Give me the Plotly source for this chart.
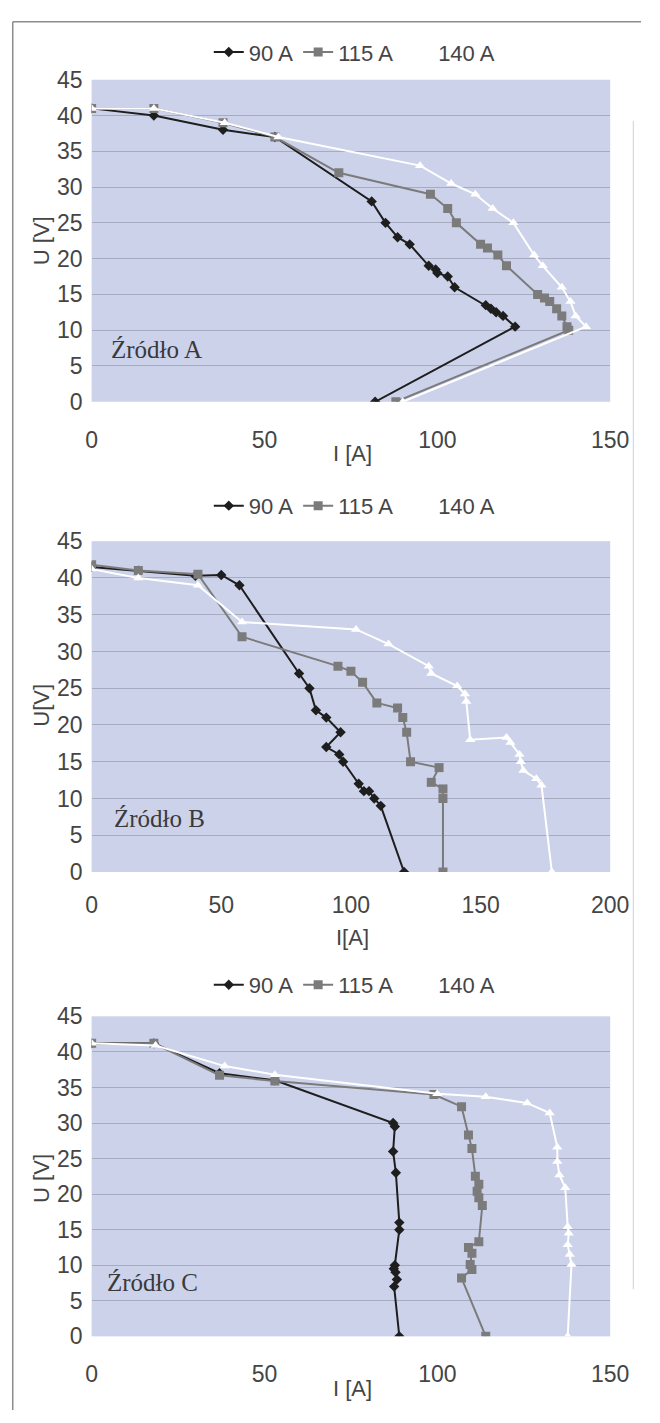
import plotly.graph_objects as go

# ---------------- data ----------------
series_names = ["90 A", "115 A", "140 A"]
panel_labels = ["Źródło A", "Źródło B", "Źródło C"]
x_titles = ["I [A]", "I[A]", "I [A]"]
y_titles = ["U [V]", "U[V]", "U [V]"]
x_ranges = [150, 200, 150]
x_ticks_A = [0, 50, 100, 150]
x_ticks_B = [0, 50, 100, 150, 200]
y_ticks = [0, 5, 10, 15, 20, 25, 30, 35, 40, 45]

# Panel A
I_A_90 = [0, 18, 38, 53, 81, 85, 88.5, 92, 97.5, 99.5, 100, 103, 105, 114, 115.5, 117, 119, 122.5, 82]
U_A_90 = [41, 40, 38, 37, 28, 25, 23, 22, 19, 18.5, 18, 17.5, 16, 13.5, 13, 12.5, 12, 10.5, 0]
I_A_115 = [0, 18, 38, 53, 71.5, 98, 103, 105.5, 112.5, 114.5, 117.5, 120, 129, 131, 132.5, 134.5, 136, 137.5, 138, 88]
U_A_115 = [41, 41, 39, 37, 32, 29, 27, 25, 22, 21.5, 20.5, 19, 15, 14.5, 14, 13, 12, 10.5, 10, 0]
I_A_140 = [0, 18, 38.5, 54, 95, 104, 111, 116, 122, 128, 130.5, 136, 138.5, 140, 143, 90]
U_A_140 = [41, 41, 39, 37, 33, 30.5, 29, 27, 25, 20.5, 19, 16, 14, 12, 10.5, 0]

# Panel B
I_B_90 = [0, 18, 40, 50, 57, 80, 84, 86.5, 90.5, 96, 90.5, 95.5, 97, 103, 105, 107, 109, 111.5, 120.5]
U_B_90 = [41.5, 41, 40.3, 40.4, 39, 27, 25, 22, 21, 19, 17, 16, 15, 12, 11, 11, 10, 9, 0]
I_B_115 = [0, 18, 41, 58, 95, 100, 104.5, 110, 118, 120, 121.5, 123, 134, 131, 135.5, 135.5, 135.5]
U_B_115 = [41.8, 41, 40.5, 32, 28, 27.3, 25.8, 23, 22.3, 21, 19, 15, 14.2, 12.2, 11.3, 10, 0]
I_B_140 = [0, 18, 41, 58, 102, 114.5, 130, 131, 141, 144, 144.5, 146, 160, 161.5, 165, 165.5, 166.5, 171.5, 173.5, 177.5]
U_B_140 = [41.2, 40, 39, 34, 33, 31, 28, 27, 25.3, 24.2, 23.2, 18, 18.3, 17.6, 16, 15, 13.8, 12.7, 11.8, 0]

# Panel C
I_C_90 = [0, 18, 37, 53, 87.2, 87.7, 87.2, 88, 89, 89, 87.7, 87.4, 87.9, 88.3, 87.5, 89]
U_C_90 = [41.2, 41.2, 37, 36, 30, 29.5, 26, 23, 16, 15, 10, 9.5, 9, 8, 7, 0]
I_C_115 = [0, 18, 37, 53, 99, 107, 109, 110, 111, 112, 111.5, 112, 113, 112, 109, 110, 109.5, 110, 107, 114]
U_C_115 = [41.2, 41.2, 36.7, 35.9, 34, 32.3, 28.3, 26.4, 22.5, 21.4, 20.4, 19.5, 18.4, 13.3, 12.5, 11.7, 10.1, 9.4, 8.2, 0]
I_C_140 = [0, 18.5, 38.5, 53, 100, 114, 126, 132.5, 134.7, 134.7, 135.3, 137, 137.7, 138, 137.7, 138.3, 138.8, 137.7]
U_C_140 = [41.2, 40.9, 38, 36.8, 34.1, 33.7, 32.8, 31.4, 26.6, 24.6, 22.7, 20.9, 15.4, 14.5, 12.9, 11.5, 10.1, 0]

panels = [
    [(I_A_90, U_A_90), (I_A_115, U_A_115), (I_A_140, U_A_140)],
    [(I_B_90, U_B_90), (I_B_115, U_B_115), (I_B_140, U_B_140)],
    [(I_C_90, U_C_90), (I_C_115, U_C_115), (I_C_140, U_C_140)],
]

# ---------------- styling ----------------
W, H = 660, 1423
def fx(px):
    return px / W
def fy(py):
    return 1 - py / H

NARROW = "Liberation Sans Narrow, Arial Narrow, Liberation Sans, Arial"
SERIF = "Liberation Serif, Times New Roman, serif"
TXT = "#454545"
PLOT_BG = "#CDD2EB"
GRID = "#A7ABC0"

line_colors = ["#1e1e1e", "#7b7b7b", "#ffffff"]
symbols = ["diamond", "square", "triangle-up"]
msizes = [8, 9, 9]

# pixel geometry of the three plot areas: (top, bottom)
plot_px = [(68, 396), (538, 875), (1022, 1348)]
left_px, right_px = 89, 628
legend_y = [40, 502, 990]
xtitle_y = [449, 942, 1401]
ytitle_y = [232, 705, 1187]
label_pos = [(107, 343), (110, 820), (103, 1293)]
xstand = [22, 17, 22]

fig = go.Figure()
legend_keys = ["legend", "legend2", "legend3"]

for p, pdata in enumerate(panels):
    ax = "" if p == 0 else str(p + 1)
    for s, (xs, ys) in enumerate(pdata):
        fig.add_trace(go.Scatter(
            x=xs, y=ys, name=series_names[s], mode="lines+markers",
            xaxis="x" + ax, yaxis="y" + ax,
            line=dict(color=line_colors[s], width=2),
            marker=dict(symbol=symbols[s], size=msizes[s], color=line_colors[s]),
            legend=legend_keys[p], showlegend=True,
        ))

layout = dict(
    width=W, height=H,
    margin=dict(l=0, r=0, t=0, b=0),
    paper_bgcolor="white", plot_bgcolor=PLOT_BG,
    font=dict(family=NARROW, size=22, color=TXT),
    annotations=[], shapes=[],
)

for p in range(3):
    ax = "" if p == 0 else str(p + 1)
    top, bot = plot_px[p]
    layout["xaxis" + ax] = dict(
        domain=[fx(left_px), fx(right_px)], anchor="y" + ax,
        range=[0, x_ranges[p]],
        tickvals=x_ticks_B if p == 1 else x_ticks_A,
        showgrid=False, zeroline=False, showline=False, ticks="",
        tickfont=dict(family=NARROW, size=23, color=TXT),
        ticklabelstandoff=xstand[p], fixedrange=True,
    )
    layout["yaxis" + ax] = dict(
        domain=[fy(bot), fy(top)], anchor="x" + ax,
        range=[0, 45], tickvals=y_ticks,
        showgrid=True, gridcolor=GRID, gridwidth=1, zeroline=False, showline=False, ticks="",
        tickfont=dict(family=NARROW, size=23, color=TXT),
        ticklabelstandoff=8, fixedrange=True,
    )
    layout[legend_keys[p]] = dict(
        orientation="h", x=fx(362), xanchor="center", y=fy(legend_y[p]), yanchor="middle",
        bgcolor="rgba(0,0,0,0)", font=dict(family=NARROW, size=22, color=TXT),
        itemwidth=30, tracegroupgap=0,
    )
    layout["annotations"].append(dict(
        text=x_titles[p], xref="paper", yref="paper", x=fx(360), y=fy(xtitle_y[p]),
        xanchor="center", yanchor="middle", showarrow=False,
        font=dict(family=NARROW, size=22, color=TXT)))
    layout["annotations"].append(dict(
        text=y_titles[p], xref="paper", yref="paper", x=fx(37), y=fy(ytitle_y[p]),
        xanchor="center", yanchor="middle", showarrow=False, textangle=-90,
        font=dict(family=NARROW, size=22, color=TXT)))
    lx, ly = label_pos[p]
    layout["annotations"].append(dict(
        text=panel_labels[p], xref="paper", yref="paper", x=fx(lx), y=fy(ly),
        xanchor="left", yanchor="middle", showarrow=False,
        font=dict(family=SERIF, size=25, color="#3a3a3a")))

# frame of the scanned figure
layout["shapes"] = [
    dict(type="line", xref="paper", yref="paper", x0=fx(7), x1=fx(7), y0=fy(9), y1=fy(1423),
         line=dict(color="#8c8c8c", width=1.5)),
    dict(type="line", xref="paper", yref="paper", x0=fx(7), x1=fx(660), y0=fy(9), y1=fy(9),
         line=dict(color="#8c8c8c", width=1.5)),
    dict(type="line", xref="paper", yref="paper", x0=fx(652), x1=fx(652), y0=fy(110), y1=fy(1300),
         line=dict(color="#d0d0d0", width=1)),
]

fig.update_layout(**layout)
fig.write_html(
    "out.html",
    config={"displayModeBar": False, "staticPlot": True},
    post_script="document.body.style.margin='0';document.body.style.overflow='hidden';",
)
